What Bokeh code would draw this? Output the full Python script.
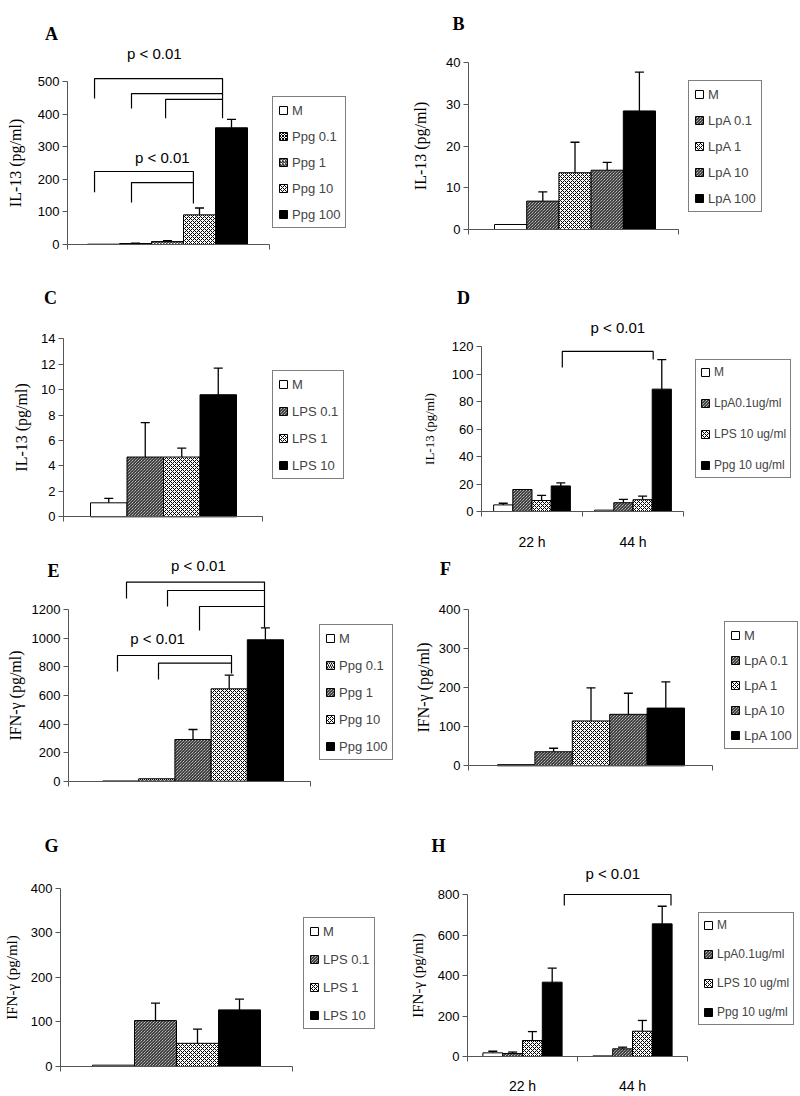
from bokeh.plotting import figure
from bokeh.models import (ColumnDataSource, Range1d, FixedTicker, Legend, LegendItem,
                          Whisker, TeeHead, Label)
from bokeh.layouts import column, row
from bokeh.embed import file_html
from bokeh.resources import INLINE

# ---------------- data ----------------
A_series = ["M", "Ppg 0.1", "Ppg 1", "Ppg 10", "Ppg 100"]
A_values = [1, 3, 9, 91, 358]
A_errors = [0, 1, 3, 21, 26]

B_series = ["M", "LpA 0.1", "LpA 1", "LpA 10", "LpA 100"]
B_values = [1.2, 6.8, 13.6, 14.2, 28.4]
B_errors = [0, 2.2, 7.3, 1.9, 9.3]

C_series = ["M", "LPS 0.1", "LPS 1", "LPS 10"]
C_values = [1.1, 4.7, 4.7, 9.6]
C_errors = [0.35, 2.7, 0.7, 2.1]

D_times = ["22 h", "44 h"]
D_series = ["M", "LpA0.1ug/ml", "LPS 10 ug/ml", "Ppg 10 ug/ml"]
D_values = [[4.8, 1], [16, 6.4], [8, 8.6], [18.6, 89]]
D_errors = [[1.2, 0], [0, 2.4], [3.8, 2.6], [2.2, 21.5]]

E_series = ["M", "Ppg 0.1", "Ppg 1", "Ppg 10", "Ppg 100"]
E_values = [0, 17, 292, 647, 990]
E_errors = [0, 0, 70, 95, 84]

F_series = ["M", "LpA 0.1", "LpA 1", "LpA 10", "LpA 100"]
F_values = [3, 36, 115, 132, 148]
F_errors = [0, 9, 85, 54, 67]

G_series = ["M", "LPS 0.1", "LPS 1", "LPS 10"]
G_values = [3, 103, 52, 127]
G_errors = [0, 39, 32, 24]

H_times = ["22 h", "44 h"]
H_series = ["M", "LpA0.1ug/ml", "LPS 10 ug/ml", "Ppg 10 ug/ml"]
H_values = [[18, 3], [15, 38], [79, 125], [367, 655]]
H_errors = [[8, 0], [7, 8], [44, 53], [69, 87]]

IL13 = "IL-13 (pg/ml)"
IFNG = "IFN-\u03b3 (pg/ml)"
PTXT = "p < 0.01"

SANS = "Liberation Sans"
SERIF = "Liberation Serif"
AXIS_COL = "#555555"


def style_for(i, n, hatches):
    if i == 0:
        return dict(fill_color="white")
    if i == n - 1:
        return dict(fill_color="black")
    pat, sc = hatches[i - 1]
    return dict(fill_color="white", hatch_pattern=pat, hatch_color="black",
                hatch_scale=sc, hatch_weight=1)


def build(cfg):
    fx, fy, fw, fh = cfg["fig"]
    ax = cfg["axis_x"]
    y0 = cfg["y0"]
    yticks = cfg["yticks"]
    ymax = yticks[-1]
    ppu = (y0 - cfg["ytop"]) / ymax
    groups = cfg.get("groups")
    if groups:
        unit = (cfg["axis_end"] - ax) / len(groups)
        x_start = -0.5
    else:
        unit = cfg["bar_w"]
        x_start = -0.5 - (cfg["bar_left"] - ax) / unit

    def X(px):
        return x_start + (px - ax) / unit

    def Y(py):
        return (y0 - py) / ppu

    x_axis_end = X(cfg["axis_end"])

    p = figure(width=fw, height=fh, x_range=Range1d(X(fx), X(fx + fw)),
               y_range=Range1d(Y(fy + fh), Y(fy)), output_backend="svg",
               toolbar_location=None, title=None,
               min_border_left=0, min_border_right=0, min_border_top=0,
               min_border_bottom=0)
    p.outline_line_color = None
    p.grid.visible = False
    p.background_fill_color = "white"
    p.border_fill_color = "white"

    # y axis (drawn at its own location inside the frame)
    ya = p.yaxis[0]
    ya.fixed_location = x_start
    ya.ticker = FixedTicker(ticks=yticks, minor_ticks=[])
    ya.bounds = (0, ymax)
    ya.axis_line_color = AXIS_COL
    ya.major_tick_line_color = AXIS_COL
    ya.major_tick_out = 5
    ya.major_tick_in = 0
    ya.minor_tick_out = 0
    ya.minor_tick_in = 0
    ya.major_label_standoff = 3
    ya.major_label_text_font = SANS
    ya.major_label_text_font_size = "13px"
    ya.major_label_text_color = "black"
    ya.axis_label = cfg["ylabel"]
    ya.axis_label_text_font = SERIF
    ya.axis_label_text_font_style = "normal"
    fs = cfg.get("ylabel_size", 16)
    ya.axis_label_text_font_size = f"{fs}px"
    ya.axis_label_text_color = "black"
    maxw = max(len(str(t)) for t in yticks) * 0.556 * 13
    lh = fs * 1.15
    so = (ax - cfg["ylabel_cx"]) - 8 - maxw - lh / 2
    ya.axis_label_standoff = int(round(max(0, so)))

    # x axis
    xa = p.xaxis[0]
    xa.fixed_location = 0
    xa.bounds = (x_start, x_axis_end)
    xa.axis_line_color = AXIS_COL
    xa.major_tick_in = 0
    xa.minor_tick_in = 0
    xa.minor_tick_out = 5
    xa.minor_tick_line_color = AXIS_COL
    xa.major_tick_out = 0
    eps = 1e-6
    if groups:
        ng = len(groups)
        minor = [-0.5 + eps] + [k + 0.5 for k in range(ng - 1)] + [ng - 0.5 - eps]
        xa.ticker = FixedTicker(ticks=list(range(ng)), minor_ticks=minor)
        xa.major_label_overrides = {k: g for k, g in enumerate(groups)}
        xa.major_label_text_font = SANS
        xa.major_label_text_font_size = "14px"
        xa.major_label_text_color = "black"
        xa.major_label_standoff = int(round(cfg["xlabel_y"] - y0 - 11))
    else:
        xa.ticker = FixedTicker(ticks=[], minor_ticks=[x_start + eps, x_axis_end - eps])
        xa.major_label_text_font_size = "0px"

    # bars
    series = cfg["series"]
    n = len(series)
    renderers = []
    wsrc = dict(x=[], lo=[], hi=[])
    if groups:
        bw = cfg["bar_frac"]
        for j, name in enumerate(series):
            xs = [k + (j - (n - 1) / 2) * bw for k in range(len(groups))]
            tops = cfg["values"][j]
            r = p.vbar(x=xs, top=tops, width=bw, line_color="black", line_width=1,
                       **style_for(j, n, cfg["hatches"]))
            renderers.append(r)
            for xx, tt, ee in zip(xs, tops, cfg["errors"][j]):
                if ee > 0:
                    wsrc["x"].append(xx); wsrc["lo"].append(tt); wsrc["hi"].append(tt + ee)
    else:
        for j, name in enumerate(series):
            tt = cfg["values"][j]
            r = p.vbar(x=[j], top=[tt], width=1, line_color="black", line_width=1,
                       **style_for(j, n, cfg["hatches"]))
            renderers.append(r)
            ee = cfg["errors"][j]
            if ee > 0:
                wsrc["x"].append(j); wsrc["lo"].append(tt); wsrc["hi"].append(tt + ee)

    w = Whisker(base="x", lower="lo", upper="hi", source=ColumnDataSource(wsrc),
                dimension="height", line_color="black", line_width=1.3,
                lower_head=None,
                upper_head=TeeHead(size=9, line_color="black", line_width=1.3))
    p.add_layout(w)

    # significance brackets
    xs_l, ys_l = [], []
    for (xl, xr, yt, yl, yr) in cfg.get("brackets", []):
        bx = [xl, xl, xr]
        by = [yl, yt, yt]
        if yr is not None:
            bx.append(xr)
            by.append(yr)
        xs_l.append(bx)
        ys_l.append(by)
    if xs_l:
        p.multi_line(xs=xs_l, ys=ys_l, line_color="black", line_width=1.2)
    for (tx, ty) in cfg.get("ptexts", []):
        p.add_layout(Label(x=tx, y=ty, text=PTXT, text_font=SANS, text_font_size="15px",
                           text_align="center", text_baseline="middle", text_color="black"))

    # panel letter
    lx, lyy = cfg["letter_pos"]
    p.add_layout(Label(x=X(lx), y=Y(lyy), text=cfg["letter"], text_font=SERIF,
                       text_font_style="bold", text_font_size="18px",
                       text_align="center", text_baseline="middle", text_color="black"))

    # legend
    lgx, lgy, pitch = cfg["legend"]
    pad = cfg.get("legend_pad", 5)
    lfs = cfg.get("legend_font", 13)
    ih = 16
    sp = int(round(pitch - ih))
    lheight = 2 * pad + n * ih + (n - 1) * sp
    items = [LegendItem(label=s, renderers=[r]) for s, r in zip(series, renderers)]
    leg = Legend(items=items,
                 location=(int(round(lgx - fx)), int(round(fy + fh - (lgy + lheight)))),
                 border_line_color="black", border_line_width=1,
                 background_fill_color="white", background_fill_alpha=1.0,
                 label_text_font=SANS, label_text_font_size=f"{lfs}px",
                 glyph_width=10, glyph_height=10, label_height=ih, spacing=sp,
                 padding=pad, margin=0, label_standoff=4)
    p.add_layout(leg)
    return p


cfgA = dict(fig=(0, 0, 400, 275), axis_x=67, axis_end=269, y0=244, ytop=81,
            bar_left=87, bar_w=32, yticks=[0, 100, 200, 300, 400, 500],
            ylabel=IL13, ylabel_cx=17, letter="A", letter_pos=(51, 33),
            legend=(272, 98, 25.7), series=A_series, values=A_values, errors=A_errors,
            hatches=[("x", 3), ("/", 3), ("x", 4)],
            brackets=[(-0.28, 3.72, 509, 448, 387), (0.875, 3.72, 463, 417, None),
                      (1.94, 3.72, 445, 387, None), (-0.28, 2.81, 224, 160, 126),
                      (0.875, 2.81, 190, 129, None)],
            ptexts=[(1.59, 586), (1.84, 267)])

cfgB = dict(fig=(400, 0, 400, 275), axis_x=468, axis_end=678, y0=229, ytop=62,
            bar_left=494, bar_w=32.2, yticks=[0, 10, 20, 30, 40],
            ylabel=IL13, ylabel_cx=422, letter="B", letter_pos=(458, 23),
            legend=(688, 82, 25.5), series=B_series, values=B_values, errors=B_errors,
            hatches=[("\\", 3), ("x", 4), ("\\", 3)])

cfgC = dict(fig=(0, 275, 400, 277), axis_x=63, axis_end=262, y0=516.3, ytop=338.3,
            bar_left=90, bar_w=36.5, yticks=[0, 2, 4, 6, 8, 10, 12, 14],
            ylabel=IL13, ylabel_cx=23, letter="C", letter_pos=(50, 297),
            legend=(272, 372, 26.7), series=C_series, values=C_values, errors=C_errors,
            hatches=[("\\", 3), ("x", 4)])

cfgD = dict(fig=(400, 275, 400, 277), axis_x=481, axis_end=683, y0=511, ytop=346,
            groups=D_times, bar_frac=0.19, xlabel_y=539,
            yticks=[0, 20, 40, 60, 80, 100, 120],
            ylabel=IL13, ylabel_size=13, ylabel_cx=432, letter="D", letter_pos=(463, 297),
            legend=(695, 361, 31.3), legend_font=12, legend_pad=4,
            series=D_series, values=D_values, errors=D_errors,
            hatches=[("\\", 3), ("x", 4)],
            brackets=[(0.30, 1.20, 116.4, 104.7, 110.5)], ptexts=[(0.85, 133.8)])

cfgE = dict(fig=(0, 552, 400, 270), axis_x=68, axis_end=310, y0=780.7, ytop=609.3,
            bar_left=102, bar_w=36.2, yticks=[0, 200, 400, 600, 800, 1000, 1200],
            ylabel=IFNG, ylabel_cx=17, letter="E", letter_pos=(53, 570),
            legend=(319, 626, 27), series=E_series, values=E_values, errors=E_errors,
            hatches=[("/", 4), ("\\", 3), ("x", 4)],
            brackets=[(0.163, 3.975, 1394, 1279, 1076), (1.296, 3.975, 1335, 1223, None),
                      (2.18, 3.975, 1223, 1055, None), (-0.086, 3.064, 880, 768, 754),
                      (1.047, 3.064, 826, 712, None)],
            ptexts=[(2.15, 1511), (1.02, 1000)])

cfgF = dict(fig=(400, 552, 400, 270), axis_x=468, axis_end=712, y0=765.3, ytop=609.3,
            bar_left=497, bar_w=37.4, yticks=[0, 100, 200, 300, 400],
            ylabel=IFNG, ylabel_cx=425, letter="F", letter_pos=(445, 568),
            legend=(724, 623, 25), series=F_series, values=F_values, errors=F_errors,
            hatches=[("\\", 3), ("x", 4), ("\\", 3)])

cfgG = dict(fig=(0, 822, 400, 272), axis_x=60, axis_end=292, y0=1066, ytop=887.7,
            bar_left=92, bar_w=42, yticks=[0, 100, 200, 300, 400],
            ylabel=IFNG, ylabel_size=15, ylabel_cx=14, letter="G", letter_pos=(51, 845),
            legend=(303, 919, 28.3), series=G_series, values=G_values, errors=G_errors,
            hatches=[("\\", 3), ("x", 4)])

cfgH = dict(fig=(400, 822, 400, 272), axis_x=467, axis_end=687, y0=1056, ytop=894,
            groups=H_times, bar_frac=0.18, xlabel_y=1083,
            yticks=[0, 200, 400, 600, 800],
            ylabel=IFNG, ylabel_size=15, ylabel_cx=420, letter="H", letter_pos=(438, 845),
            legend=(698, 914, 29), legend_font=12, legend_pad=4,
            series=H_series, values=H_values, errors=H_errors,
            hatches=[("\\", 3), ("x", 4)],
            brackets=[(0.38, 1.35, 800, 746, 746)], ptexts=[(0.82, 904)])

figs = [build(c) for c in (cfgA, cfgB, cfgC, cfgD, cfgE, cfgF, cfgG, cfgH)]
layout = column(row(figs[0], figs[1]), row(figs[2], figs[3]),
                row(figs[4], figs[5]), row(figs[6], figs[7]))

open("out.html", "w").write(file_html(layout, INLINE))
